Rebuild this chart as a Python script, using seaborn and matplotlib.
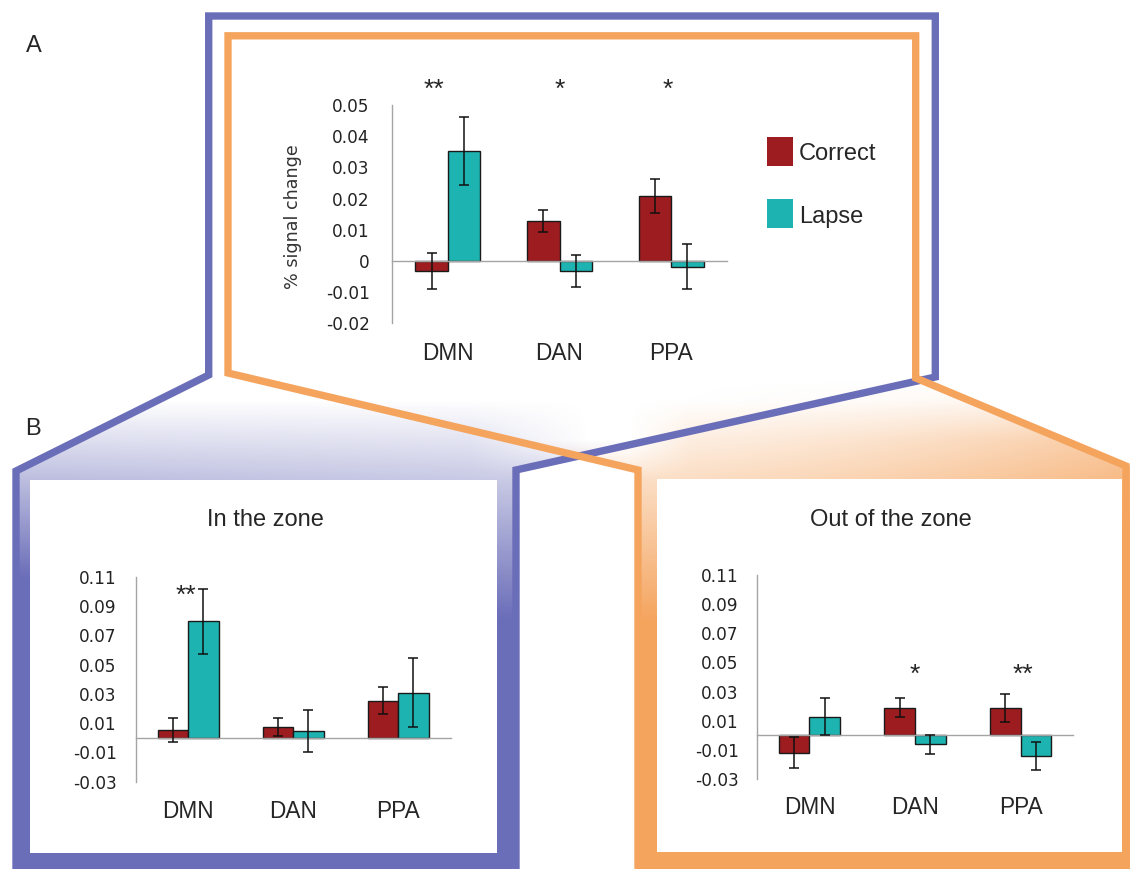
import numpy as np
import pandas as pd
import matplotlib
matplotlib.use("Agg")
import matplotlib.pyplot as plt
from matplotlib.patches import Polygon, Rectangle
from matplotlib.transforms import blended_transform_factory
import seaborn as sns

# ---------------------------------------------------------------- data
regions = ["DMN", "DAN", "PPA"]
conditions = ["Correct", "Lapse"]

# A: all trials
all_correct = [-0.0031, 0.0128, 0.0209]
all_correct_se = [0.0058, 0.0035, 0.0055]
all_lapse = [0.0352, -0.0033, -0.0018]
all_lapse_se = [0.0110, 0.0051, 0.0072]
all_sig = ["**", "*", "*"]

# B: in the zone
in_correct = [0.0055, 0.0074, 0.0254]
in_correct_se = [0.0082, 0.0063, 0.0095]
in_lapse = [0.0795, 0.0048, 0.0309]
in_lapse_se = [0.0224, 0.0142, 0.0236]
in_sig = ["**", "", ""]

# B: out of the zone
out_correct = [-0.0120, 0.0190, 0.0184]
out_correct_se = [0.0105, 0.0065, 0.0096]
out_lapse = [0.0128, -0.0063, -0.0140]
out_lapse_se = [0.0125, 0.0062, 0.0097]
out_sig = ["", "*", "**"]

ticks_A = [0.05, 0.04, 0.03, 0.02, 0.01, 0.0, -0.01, -0.02]
tick_labels_A = ["0.05", "0.04", "0.03", "0.02", "0.01", "0", "-0.01", "-0.02"]
ticks_B = [0.11, 0.09, 0.07, 0.05, 0.03, 0.01, -0.01, -0.03]
tick_labels_B = ["0.11", "0.09", "0.07", "0.05", "0.03", "0.01", "-0.01", "-0.03"]

# ---------------------------------------------------------------- style
sns.set_style("white")
plt.rcParams["font.family"] = ["Liberation Sans", "DejaVu Sans"]
plt.rcParams["axes.unicode_minus"] = False

RED = "#9c1c20"
TEAL = "#1db3b0"
BLUE = "#6a6db8"
ORANGE = "#f5a45e"
AXIS_GREY = "#a4a4a4"
palette = {"Correct": RED, "Lapse": TEAL}

W, H = 1130, 869
fig = plt.figure(figsize=(W / 100, H / 100), dpi=100)
fig.patch.set_facecolor("white")


def axes_px(left, top, right, bottom, **kw):
    return fig.add_axes([left / W, 1 - bottom / H, (right - left) / W, (bottom - top) / H], **kw)


# ---------------------------------------------------------------- frames
bg = axes_px(0, 0, W, H, zorder=0)
bg.set_xlim(0, W)
bg.set_ylim(H, 0)
bg.axis("off")

yy, xx = np.mgrid[0:H, 0:W] + 0.5
ramp = np.clip((yy - 400) / 220, 0, 1)

hb = np.clip(1 - (xx - 470) / 120, 0, 1)
hb = hb + (1 - hb) * np.clip((yy - 440) / 40, 0, 1)
alpha_blue = np.clip(ramp * (1 + 0.25 * np.clip(1 - xx / 520, 0, 1)) * hb, 0, 1)

s = np.clip((xx - 640) / 490, 0, 1)
ho = np.clip((xx - 630) / 60, 0, 1)
ho = ho + (1 - ho) * np.clip((yy - 440) / 40, 0, 1)
alpha_orange = np.clip((ramp + 0.4 * s ** 1.5 * np.clip((yy - 380) / 60, 0, 1)) * ho, 0, 1)


def gradient_fill(color, alpha, verts):
    rgba = np.zeros((H, W, 4))
    rgba[..., :3] = matplotlib.colors.to_rgb(color)
    rgba[..., 3] = alpha
    im = bg.imshow(rgba, extent=(0, W, H, 0), interpolation="bilinear", zorder=1, aspect="auto")
    poly = Polygon(verts, closed=True, transform=bg.transData)
    im.set_clip_path(poly)


blue_path = [(16, 880), (16, 471), (208.7, 375), (208.7, 16), (935.3, 16),
             (935.3, 377), (516, 470), (516, 880)]
orange_path = [(638, 880), (638, 470), (228, 373), (228, 35.8), (915.7, 35.8),
               (915.7, 378), (1126, 466), (1126, 880)]

gradient_fill(BLUE, alpha_blue, [(16, 880), (16, 471), (208.7, 375), (935.3, 377), (516, 470), (516, 880)])
gradient_fill(ORANGE, alpha_orange, [(638, 880), (638, 470), (228, 373), (915.7, 378), (1126, 466), (1140, 466), (1140, 880)])

bg.add_patch(Rectangle((30, 480), 467, 373, facecolor="white", edgecolor="none", zorder=2))
bg.add_patch(Rectangle((657, 479), 465, 373, facecolor="white", edgecolor="none", zorder=2))

for path, col in ((blue_path, BLUE), (orange_path, ORANGE)):
    px, py = zip(*path)
    bg.plot(px, py, color=col, lw=5.3, solid_joinstyle="miter", solid_capstyle="butt", zorder=3)

bg.text(34, 52, "A", fontsize=17, ha="center", va="baseline")
bg.text(33, 435, "B", fontsize=17, ha="center", va="baseline")

# legend
for y0, lab in ((137, "Correct"), (199, "Lapse")):
    bg.add_patch(Rectangle((767, y0), 26, 29, facecolor=palette[lab], edgecolor="none", zorder=3))
    bg.text(799, y0 + 23.5, lab, fontsize=17, ha="left", va="baseline", zorder=3)


# ---------------------------------------------------------------- bar panels
def bar_panel(ax, correct, correct_se, lapse, lapse_se, ylim, ticks, tick_labels,
              label_pad, cat_y):
    df = pd.DataFrame({
        "region": regions * 2,
        "condition": ["Correct"] * 3 + ["Lapse"] * 3,
        "value": list(correct) + list(lapse),
    })
    sns.barplot(data=df, x="region", y="value", hue="condition", order=regions,
                hue_order=conditions, palette=palette, saturation=1, width=0.58,
                errorbar=None, edgecolor="#1a1a1a", linewidth=1.0, legend=False, ax=ax)
    bars = list(ax.containers)
    for cont, vals, errs in zip(bars, (correct, lapse), (correct_se, lapse_se)):
        xs = [b.get_x() + b.get_width() / 2 for b in cont]
        ax.errorbar(xs, vals, yerr=errs, fmt="none", ecolor="#111111", elinewidth=1.1,
                    capsize=3.5, capthick=1.1, zorder=4)

    ax.set_facecolor("none")
    ax.set_xlim(-0.5, 2.5)
    ax.set_ylim(*ylim)
    ax.set_yticks(ticks)
    ax.set_yticklabels(tick_labels, fontsize=12.2, family="DejaVu Sans", color="#222222")
    ax.set_xticks([-0.5, 0.5, 1.5, 2.5])
    ax.set_xticklabels([])
    ax.set_xlabel("")
    ax.set_ylabel("")
    for side in ("top", "right"):
        ax.spines[side].set_visible(False)
    for side in ("left", "bottom"):
        ax.spines[side].set_color(AXIS_GREY)
        ax.spines[side].set_linewidth(1.0)
    ax.spines["bottom"].set_position(("data", 0))
    ax.spines["bottom"].set_zorder(3)
    ax.tick_params(axis="y", direction="out", length=4, width=0.9, color=AXIS_GREY, pad=label_pad)
    ax.tick_params(axis="x", direction="out", length=4, width=0.9, color=AXIS_GREY)
    trans = blended_transform_factory(ax.transData, ax.transAxes)
    for i, r in enumerate(regions):
        ax.text(i, cat_y, r, transform=trans, ha="center", va="baseline", fontsize=16.3)


def stars(ax, sig, xs_off, y):
    for i, (lab, dx) in enumerate(zip(sig, xs_off)):
        if lab:
            ax.text(i + dx, y, lab, ha="center", va="baseline", fontsize=19, clip_on=False)


# A
axA = axes_px(392, 105, 727, 323.4, zorder=5)
bar_panel(axA, all_correct, all_correct_se, all_lapse, all_lapse_se, (-0.02, 0.05),
          ticks_A, tick_labels_A, label_pad=12, cat_y=-0.168)
stars(axA, all_sig, [-0.12, 0.0, -0.03], 0.0527)
axA.set_ylabel("% signal change", fontsize=12.6, family="DejaVu Sans", color="#333333")
axA.yaxis.label.set_verticalalignment("center")
axA.yaxis.set_label_coords((293 - 392) / 335, (323.4 - 217) / 218.4)

# B: in the zone
axB1 = axes_px(135.7, 576.7, 450.7, 781.7, zorder=5)
bar_panel(axB1, in_correct, in_correct_se, in_lapse, in_lapse_se, (-0.03, 0.11),
          ticks_B, tick_labels_B, label_pad=9.6, cat_y=-0.176)
stars(axB1, in_sig, [-0.024, 0, 0], 0.0922)
axB1.set_title("In the zone", fontsize=17, x=(265 - 135.7) / 315, y=(781.7 - 525.5) / 205,
               va="baseline", ha="center", pad=0)

# B: out of the zone
axB2 = axes_px(756.7, 575, 1073.3, 779, zorder=5)
bar_panel(axB2, out_correct, out_correct_se, out_lapse, out_lapse_se, (-0.03, 0.11),
          ticks_B, tick_labels_B, label_pad=9.1, cat_y=-0.1725)
stars(axB2, out_sig, [0, 0, 0.02], 0.0366)
axB2.set_title("Out of the zone", fontsize=17, x=(891 - 756.7) / 316.6, y=(779 - 525.5) / 204,
               va="baseline", ha="center", pad=0)

fig.savefig("out.png", dpi=100, facecolor="white")
